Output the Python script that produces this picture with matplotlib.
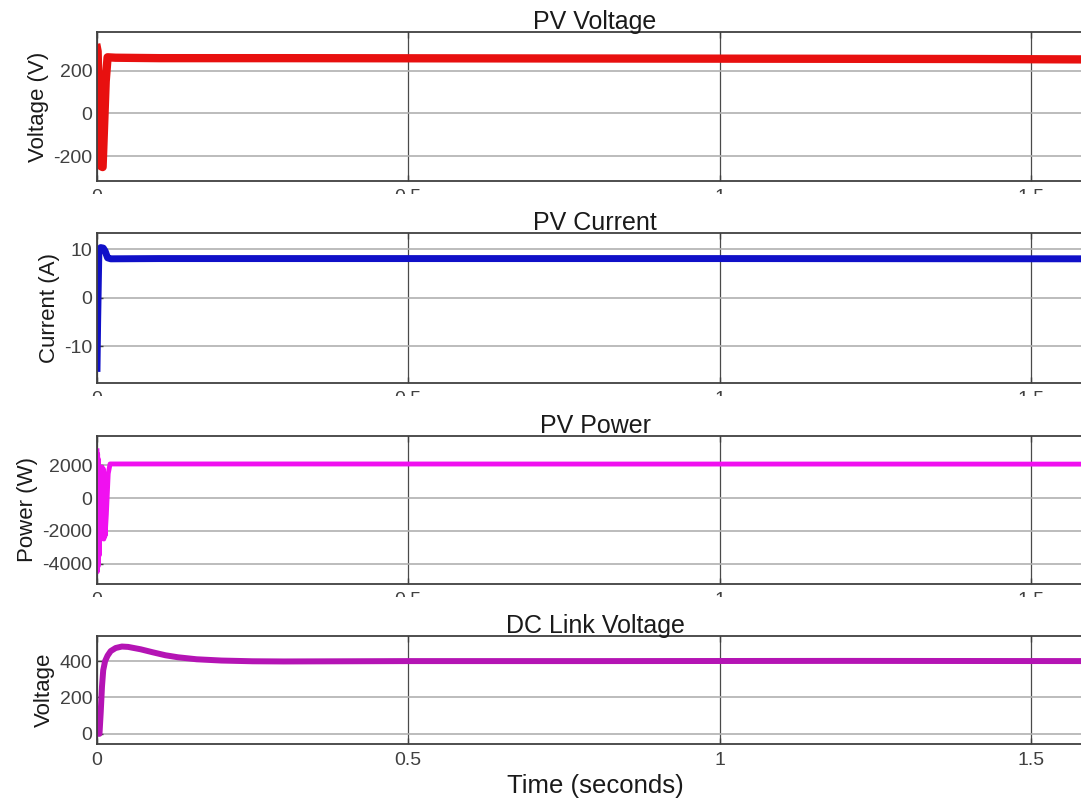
import matplotlib
matplotlib.use("Agg")
import matplotlib.pyplot as plt
from matplotlib.transforms import Bbox, TransformedBbox

plt.rcParams['font.family'] = ['Liberation Sans', 'DejaVu Sans']
plt.rcParams['axes.unicode_minus'] = False

# PV voltage (V)
t_volt = [0, 0.001, 0.006, 0.009, 0.014, 0.017, 0.03, 0.1, 0.3, 0.6, 0.9, 1.2, 1.4, 1.6]
pv_volt = [305, 290, -245, -250, 150, 262, 260, 258, 258, 257, 256, 255, 254, 252]

# PV current (A)
t_curr = [0, 0.001, 0.003, 0.006, 0.010, 0.013, 0.017, 0.022, 0.1, 0.5, 1.0, 1.6]
pv_curr = [-14.5, -5, 9.8, 10.3, 10.2, 9.6, 8.2, 8.0, 8.05, 8.05, 8.05, 8.0]

# PV power (W)
t_pow = [0, 0.0005, 0.001, 0.0015, 0.002, 0.0025, 0.003, 0.0035, 0.004, 0.005,
         0.006, 0.007, 0.008, 0.009, 0.010, 0.011, 0.012, 0.013, 0.015, 0.018,
         0.021, 0.03, 0.3, 0.8, 1.2, 1.6]
pv_pow = [2900, -4500, 2700, -4200, 2400, -4000, 1800, -3500, 1500, -2500,
          1900, -2500, 1900, -2400, 1800, -2500, 1500, -2300, -1000, 1500,
          2090, 2090, 2090, 2085, 2085, 2080]

# DC link voltage
t_dc = [0, 0.004, 0.006, 0.008, 0.010, 0.013, 0.017, 0.022, 0.03, 0.04, 0.05,
        0.07, 0.09, 0.11, 0.13, 0.16, 0.2, 0.25, 0.3, 0.5, 0.8, 1.2, 1.6]
dc_volt = [0, 0, 120, 260, 350, 400, 430, 455, 472, 480, 478,
           465, 448, 432, 421, 410, 403, 399, 398, 400, 400, 401, 400]

W, H = 1081, 799
fig = plt.figure(figsize=(W / 100, H / 100), dpi=100)

left, right = 97, 1093
# (top, bottom) in pixels from the top of the image
boxes = [(32, 181), (233, 383), (436, 584), (636, 744)]
panels = [
    (t_volt, pv_volt, '#e8100f', 6.0, 'PV Voltage', 'Voltage (V)', (-315, 380), [-200, 0, 200]),
    (t_curr, pv_curr, '#1010c8', 5.0, 'PV Current', 'Current (A)', (-17.5, 13.3), [-10, 0, 10]),
    (t_pow, pv_pow, '#f010f0', 3.5, 'PV Power', 'Power (W)', (-5250, 3800), [-4000, -2000, 0, 2000]),
    (t_dc, dc_volt, '#b414b4', 4.3, 'DC Link Voltage', 'Voltage', (-56, 538), [0, 200, 400]),
]

for k, ((top, bot), (t, y, col, lw, title, ylab, ylim, yt)) in enumerate(zip(boxes, panels)):
    ax = fig.add_axes([left / W, 1 - bot / H, (right - left) / W, (bot - top) / H])
    ax.plot(t, y, color=col, lw=lw, solid_joinstyle='round')
    ax.set_xlim(0, 1.6)
    ax.set_ylim(*ylim)
    ax.set_xticks([0, 0.5, 1, 1.5])
    ax.set_xticklabels(['0', '0.5', '1', '1.5'])
    ax.set_yticks(yt)
    ax.set_title(title, fontsize=18, color='#1a1a1a', pad=2)
    ax.set_ylabel(ylab, fontsize=16, color='#1a1a1a', labelpad=3)
    ax.tick_params(direction='in', length=4, width=1, colors='#404040',
                   labelsize=14, top=True, right=True)
    ax.tick_params(axis='x', pad=6)
    ax.grid(axis='y', color='#b0b0b0', lw=1.2)
    ax.grid(axis='x', color='#4a4a4a', lw=0.9)
    for s in ax.spines.values():
        s.set_color('#404040')
        s.set_linewidth(1.3)
    if k < 3:
        # the lower part of these tick labels is hidden in the original
        clip = TransformedBbox(Bbox([[0, 1 - (bot + 13) / H], [1, 1]]), fig.transFigure)
        for tick in ax.xaxis.get_major_ticks():
            tick.label1.set_clip_box(clip)
            tick.label1.set_clip_on(True)
    else:
        ax.set_xlabel('Time (seconds)', fontsize=18.5, color='#1a1a1a', labelpad=3)

fig.savefig('out.png', dpi=100)
